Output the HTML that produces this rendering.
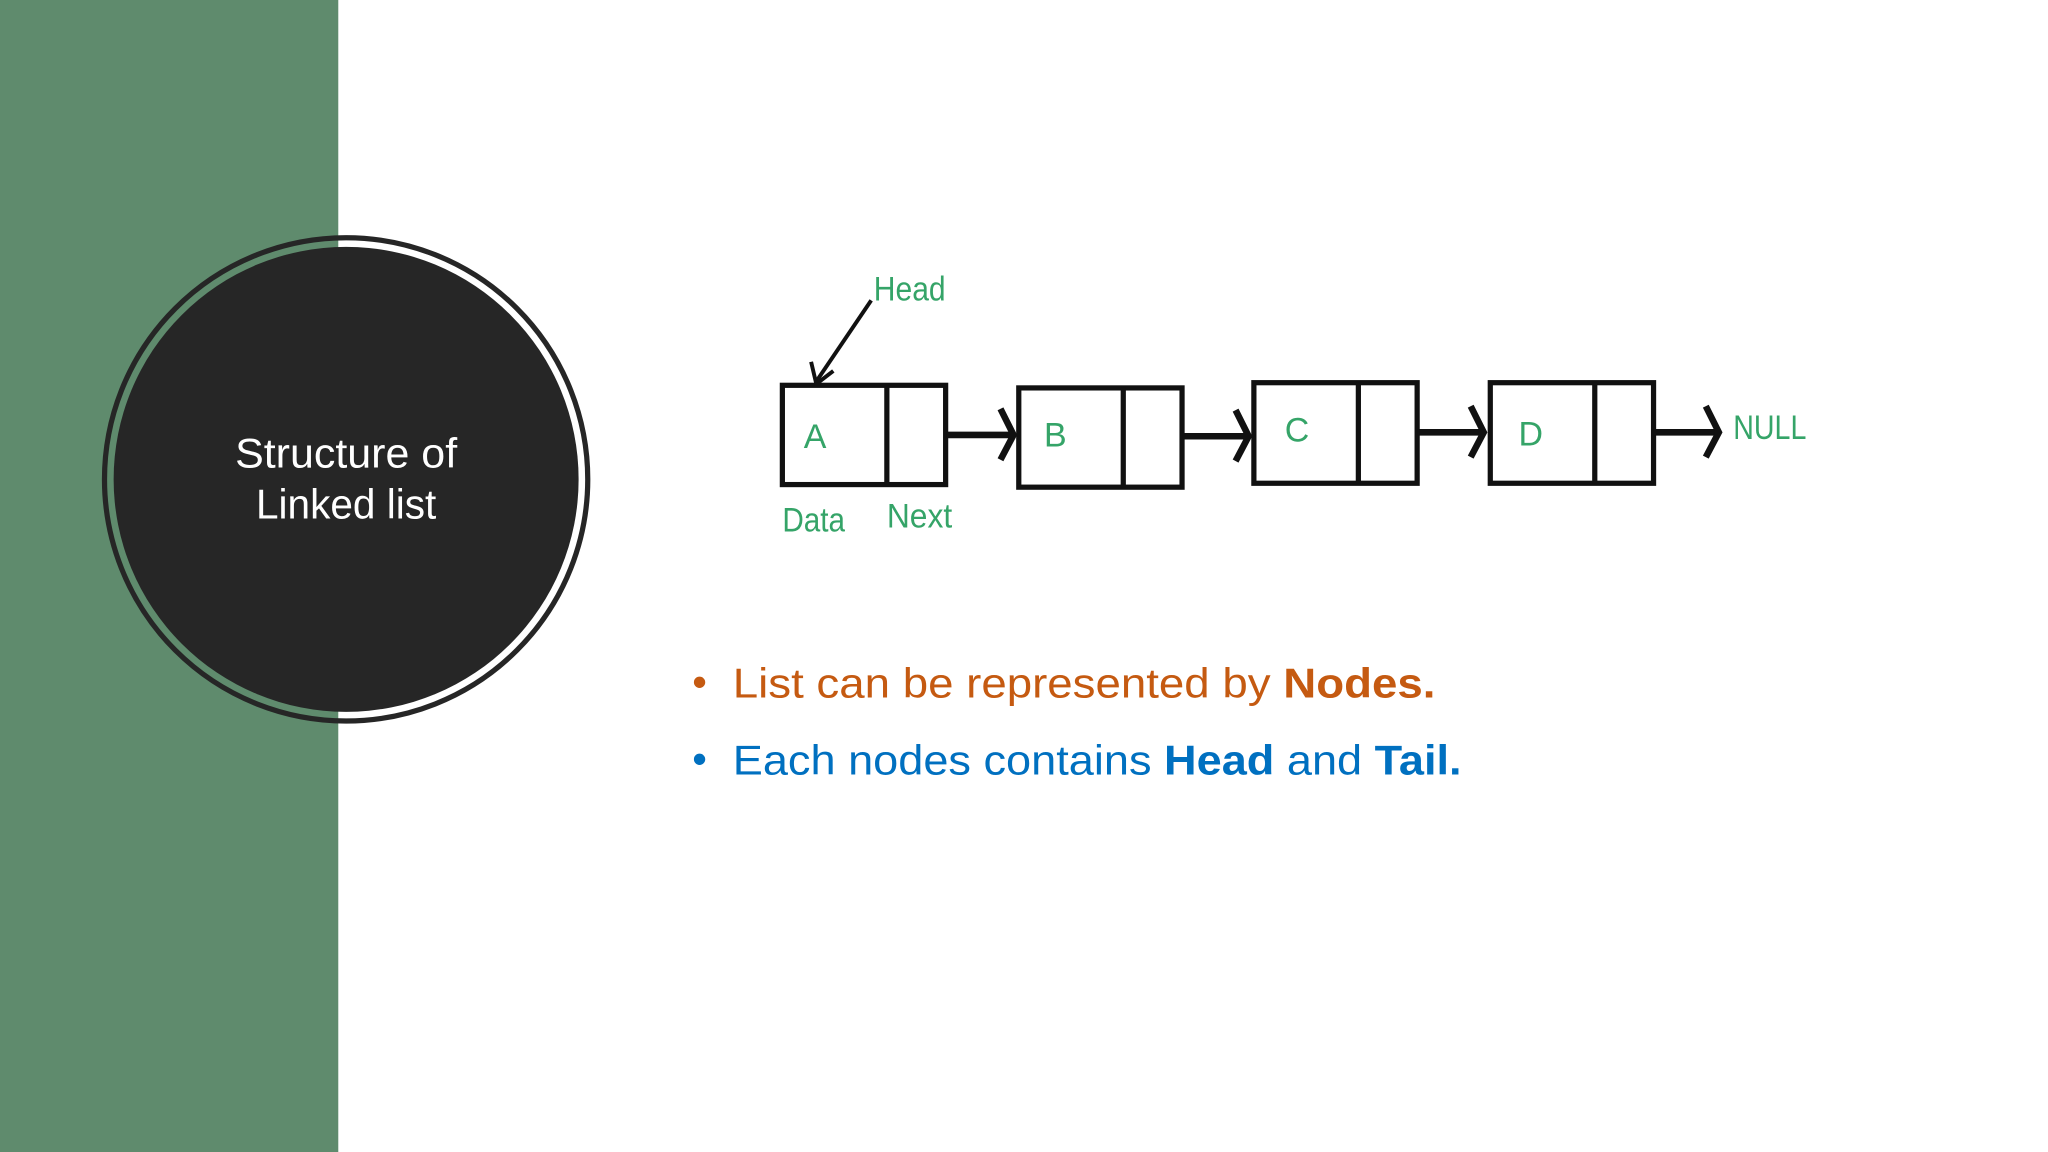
<!DOCTYPE html>
<html><head><meta charset="utf-8"><style>
html,body{margin:0;padding:0;background:#fff;width:2048px;height:1152px;overflow:hidden}
svg{display:block}
</style></head><body>
<svg width="2048" height="1152" viewBox="0 0 1568 882" xmlns="http://www.w3.org/2000/svg">
<rect x="0" y="0" width="1568" height="882" fill="#fff"/>
<rect x="0" y="0" width="259" height="882" fill="#5f8b6d"/>
<circle cx="265" cy="367" r="185" fill="none" stroke="#262626" stroke-width="4"/>
<circle cx="265" cy="367" r="178" fill="#262626"/>
<g font-family="Liberation Sans, sans-serif" font-size="32" fill="#fff" text-anchor="middle">
<text x="265" y="358" textLength="170" lengthAdjust="spacingAndGlyphs">Structure of</text>
<text x="265" y="397" textLength="138" lengthAdjust="spacingAndGlyphs">Linked list</text>
</g>
<g fill="none" stroke="#111" stroke-width="4">
<rect x="599" y="295" width="125" height="76"/><line x1="679" y1="295" x2="679" y2="371"/>
<rect x="780" y="297" width="125" height="76"/><line x1="860" y1="297" x2="860" y2="373"/>
<rect x="960" y="293" width="125" height="77"/><line x1="1040" y1="293" x2="1040" y2="370"/>
<rect x="1141" y="293" width="125" height="77"/><line x1="1221" y1="293" x2="1221" y2="370"/>
<g stroke-width="5">
<line x1="725" y1="333" x2="774" y2="333"/><polyline points="766,313 776,333 766,352"/>
<line x1="905" y1="334" x2="954" y2="334"/><polyline points="946,314 956,334 946,353"/>
<line x1="1085" y1="331" x2="1134" y2="331"/><polyline points="1126,311 1136,331 1126,350"/>
<line x1="1266" y1="331" x2="1314" y2="331"/><polyline points="1306,311 1316,331 1306,350"/>
</g>
<line x1="667" y1="230" x2="625" y2="292" stroke-width="3"/>
<polyline points="621,277 625,294 638,284" stroke-width="3"/>
</g>
<g font-family="Liberation Sans, sans-serif" font-size="26" fill="#35a468">
<text x="669" y="230" textLength="55" lengthAdjust="spacingAndGlyphs">Head</text>
<text x="624" y="343" text-anchor="middle">A</text>
<text x="808" y="342" text-anchor="middle">B</text>
<text x="993" y="338" text-anchor="middle">C</text>
<text x="1172" y="341" text-anchor="middle">D</text>
<text x="1327" y="336" textLength="56" lengthAdjust="spacingAndGlyphs">NULL</text>
<text x="599" y="407" textLength="48" lengthAdjust="spacingAndGlyphs">Data</text>
<text x="679" y="404" textLength="50" lengthAdjust="spacingAndGlyphs">Next</text>
</g>
<g font-family="Liberation Sans, sans-serif" font-size="32">
<text x="530" y="533" fill="#c55a11">•</text>
<text x="561" y="534" fill="#c55a11" textLength="538" lengthAdjust="spacingAndGlyphs">List can be represented by <tspan font-weight="bold">Nodes.</tspan></text>
<text x="530" y="592" fill="#0070c0">•</text>
<text x="561" y="593" fill="#0070c0" textLength="558" lengthAdjust="spacingAndGlyphs">Each nodes contains <tspan font-weight="bold">Head</tspan> and <tspan font-weight="bold">Tail.</tspan></text>
</g>
</svg>
</body></html>
